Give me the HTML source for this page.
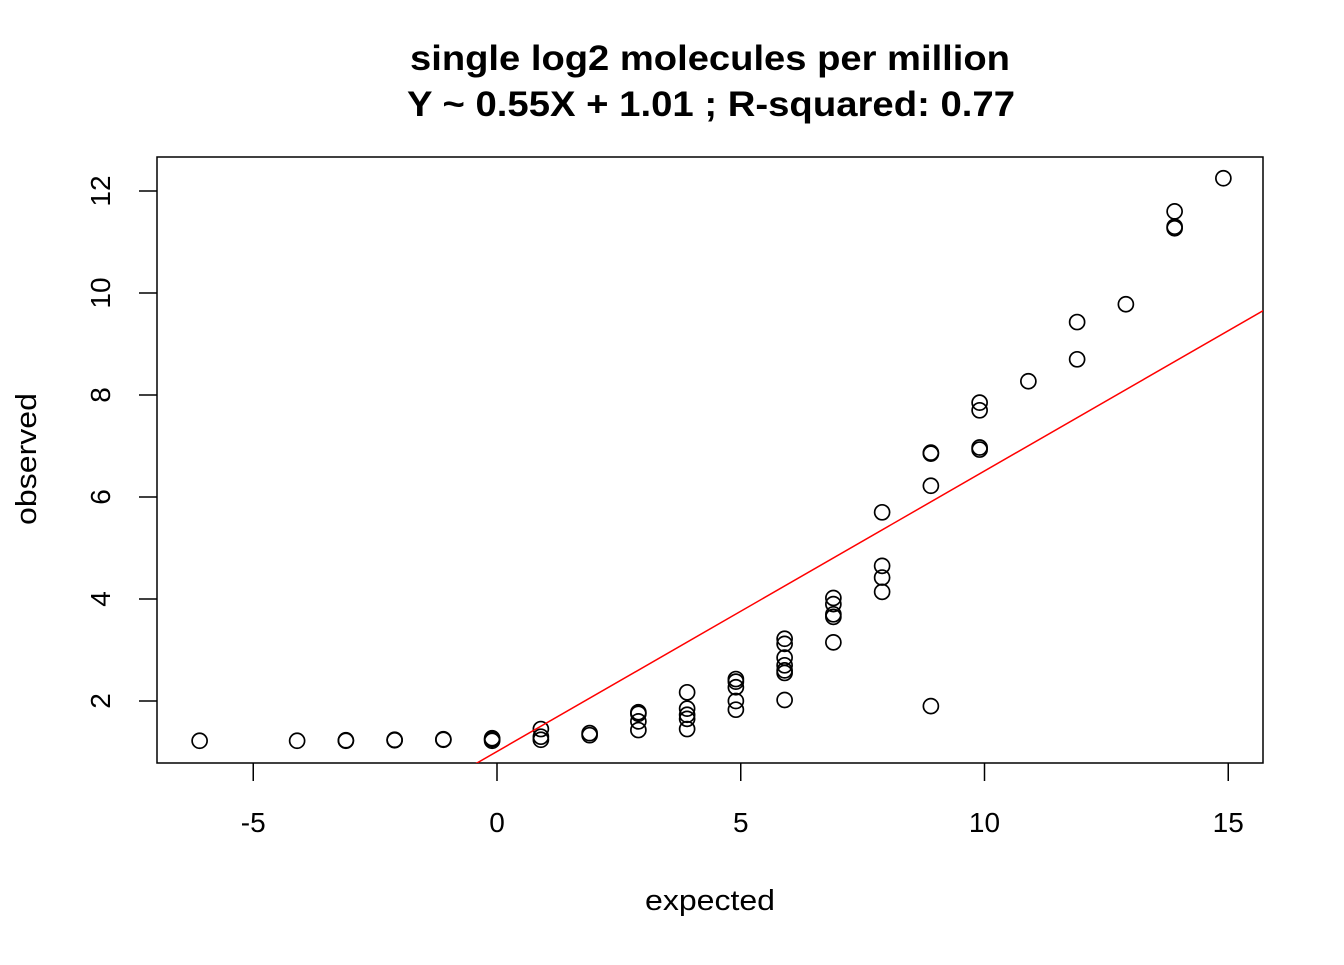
<!DOCTYPE html>
<html><head><meta charset="utf-8"><style>
body{margin:0;background:#fff}
svg text{font-family:"Liberation Sans",Arial,sans-serif}
</style></head><body>
<svg id="chart" width="1344" height="960" xmlns="http://www.w3.org/2000/svg">
<text x="710" y="70" text-anchor="middle" font-size="35" font-weight="bold" textLength="600" lengthAdjust="spacingAndGlyphs">single log2 molecules per million</text>
<text x="711" y="116" text-anchor="middle" font-size="35" font-weight="bold" textLength="608" lengthAdjust="spacingAndGlyphs">Y ~ 0.55X + 1.01 ; R-squared: 0.77</text>
<defs><clipPath id="pc"><rect x="157" y="157" width="1106" height="606"/></clipPath></defs>
<rect x="157" y="157" width="1106" height="606" fill="none" stroke="#000" stroke-width="1.5"/>
<g id="xa"></g><g id="ya"></g><g id="pts"></g><g id="fit" clip-path="url(#pc)"></g>
<text x="710" y="910" text-anchor="middle" font-size="29" textLength="130" lengthAdjust="spacingAndGlyphs">expected</text>
<text transform="translate(36,459) rotate(-90)" text-anchor="middle" font-size="29" textLength="132" lengthAdjust="spacingAndGlyphs">observed</text>
</svg>
<script>
const xTicks=[-5,0,5,10,15];
const yTicks=[2,4,6,8,10,12];
const ptX=[-6.1,-4.1,-3.1,-3.1,-2.1,-2.1,-1.1,-1.1,-0.1,-0.1,-0.1,0.9,0.9,0.9,1.9,1.9,2.9,2.9,2.9,2.9,3.9,3.9,3.9,3.9,3.9,4.9,4.9,4.9,4.9,4.9,5.9,5.9,5.9,5.9,5.9,5.9,5.9,6.9,6.9,6.9,6.9,6.9,7.9,7.9,7.9,7.9,8.9,8.9,8.9,8.9,9.9,9.9,9.9,9.9,10.9,11.9,11.9,12.9,13.9,13.9,13.9,14.9];
const ptY=[1.22,1.22,1.22,1.23,1.23,1.24,1.24,1.25,1.22,1.25,1.27,1.45,1.3,1.24,1.33,1.37,1.78,1.6,1.43,1.75,2.17,1.85,1.73,1.65,1.45,2.43,2.38,2.27,2.0,1.83,3.22,3.12,2.85,2.7,2.6,2.55,2.02,4.02,3.9,3.7,3.65,3.15,5.7,4.65,4.42,4.14,6.87,6.85,6.22,1.9,7.85,7.7,6.97,6.93,8.27,9.43,8.7,9.78,11.6,11.3,11.27,12.25];
const slope=0.55, intercept=1.01;
const sx=v=>497+v*48.75, sy=v=>701-(v-2)*51;
const NS="http://www.w3.org/2000/svg";
function mk(t,a,p){const e=document.createElementNS(NS,t);for(const k in a)e.setAttribute(k,a[k]);p.appendChild(e);return e;}
const xa=document.getElementById('xa'),ya=document.getElementById('ya'),pts=document.getElementById('pts'),fit=document.getElementById('fit');
xTicks.forEach(t=>{const x=sx(t);
 const l=mk('line',{x1:x,x2:x,y1:763,y2:781,stroke:'#000','stroke-width':1.5},xa);
 
 
 const tx=mk('text',{x:x,y:832,'text-anchor':'middle','font-size':28},xa);tx.textContent=t;
 
 });
yTicks.forEach(t=>{const y=sy(t);
 const l=mk('line',{x1:139,x2:157,y1:y,y2:y,stroke:'#000','stroke-width':1.5},ya);
 
 
 const tx=mk('text',{transform:`translate(110,${y}) rotate(-90)`,'text-anchor':'middle','font-size':28},ya);tx.textContent=t;
 
 });
ptX.forEach((x,i)=>{const c=mk('circle',{cx:sx(x),cy:sy(ptY[i]),r:7.5,fill:'none',stroke:'#000','stroke-width':1.7},pts);
 
 });
const fl=mk('line',{x1:sx(-8),y1:sy(slope*-8+intercept),x2:sx(17),y2:sy(slope*17+intercept),stroke:'#ff0000','stroke-width':1.5},fit);


</script>
</body></html>
